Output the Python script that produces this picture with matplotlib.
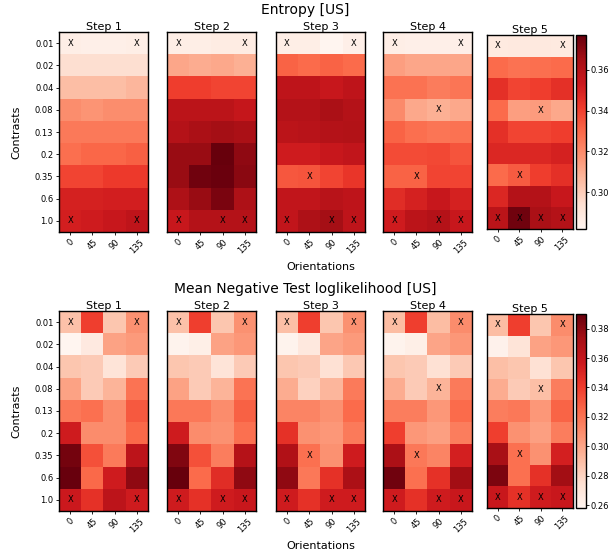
import numpy as np
import matplotlib
matplotlib.use('Agg')
import matplotlib.pyplot as plt
from matplotlib.colors import Normalize

contrasts = ["0.01", "0.02", "0.04", "0.08", "0.13", "0.2", "0.35", "0.6", "1.0"]
orientations = ["0", "45", "90", "135"]
steps = ["Step 1", "Step 2", "Step 3", "Step 4", "Step 5"]

# Entropy, rows = contrasts, cols = orientations
entropy_step1 = [
    [0.286, 0.285, 0.285, 0.286],
    [0.294, 0.294, 0.294, 0.294],
    [0.305, 0.305, 0.305, 0.307],
    [0.319, 0.317, 0.319, 0.319],
    [0.325, 0.325, 0.325, 0.325],
    [0.328, 0.330, 0.330, 0.332],
    [0.339, 0.339, 0.342, 0.342],
    [0.350, 0.350, 0.351, 0.351],
    [0.351, 0.352, 0.354, 0.357],
]
entropy_step2 = [
    [0.286, 0.286, 0.287, 0.287],
    [0.312, 0.310, 0.311, 0.309],
    [0.341, 0.341, 0.339, 0.339],
    [0.358, 0.358, 0.358, 0.355],
    [0.360, 0.363, 0.365, 0.363],
    [0.367, 0.367, 0.377, 0.369],
    [0.367, 0.375, 0.376, 0.370],
    [0.362, 0.367, 0.373, 0.362],
    [0.354, 0.360, 0.360, 0.360],
]
entropy_step3 = [
    [0.286, 0.286, 0.282, 0.285],
    [0.331, 0.329, 0.331, 0.329],
    [0.357, 0.357, 0.354, 0.357],
    [0.360, 0.360, 0.363, 0.360],
    [0.358, 0.359, 0.360, 0.361],
    [0.352, 0.352, 0.354, 0.356],
    [0.334, 0.335, 0.339, 0.343],
    [0.356, 0.356, 0.359, 0.357],
    [0.356, 0.362, 0.365, 0.357],
]
entropy_step4 = [
    [0.286, 0.285, 0.285, 0.285],
    [0.314, 0.312, 0.312, 0.312],
    [0.327, 0.327, 0.324, 0.326],
    [0.320, 0.311, 0.309, 0.311],
    [0.331, 0.328, 0.326, 0.327],
    [0.337, 0.337, 0.338, 0.335],
    [0.331, 0.331, 0.339, 0.339],
    [0.346, 0.350, 0.354, 0.350],
    [0.352, 0.358, 0.360, 0.354],
]
entropy_step5 = [
    [0.288, 0.289, 0.289, 0.288],
    [0.329, 0.327, 0.328, 0.329],
    [0.345, 0.339, 0.341, 0.345],
    [0.329, 0.314, 0.315, 0.311],
    [0.345, 0.339, 0.339, 0.341],
    [0.348, 0.348, 0.348, 0.350],
    [0.329, 0.333, 0.341, 0.345],
    [0.348, 0.360, 0.360, 0.354],
    [0.358, 0.375, 0.363, 0.360],
]

# Mean negative test log-likelihood
nll_step1 = [
    [0.288, 0.339, 0.286, 0.308],
    [0.258, 0.267, 0.301, 0.304],
    [0.286, 0.284, 0.271, 0.284],
    [0.301, 0.284, 0.294, 0.320],
    [0.318, 0.321, 0.310, 0.330],
    [0.355, 0.310, 0.310, 0.324],
    [0.386, 0.333, 0.317, 0.363],
    [0.389, 0.324, 0.355, 0.379],
    [0.357, 0.345, 0.363, 0.355],
]
nll_step2 = [
    [0.288, 0.339, 0.286, 0.308],
    [0.260, 0.263, 0.301, 0.305],
    [0.286, 0.284, 0.271, 0.284],
    [0.301, 0.284, 0.294, 0.320],
    [0.318, 0.318, 0.310, 0.327],
    [0.355, 0.310, 0.308, 0.321],
    [0.383, 0.333, 0.316, 0.366],
    [0.390, 0.323, 0.347, 0.379],
    [0.355, 0.345, 0.355, 0.358],
]
nll_step3 = [
    [0.289, 0.339, 0.286, 0.308],
    [0.260, 0.268, 0.300, 0.304],
    [0.286, 0.284, 0.273, 0.285],
    [0.297, 0.281, 0.293, 0.317],
    [0.313, 0.313, 0.308, 0.323],
    [0.345, 0.308, 0.305, 0.317],
    [0.368, 0.321, 0.308, 0.355],
    [0.379, 0.318, 0.345, 0.370],
    [0.355, 0.345, 0.355, 0.355],
]
nll_step4 = [
    [0.290, 0.339, 0.290, 0.310],
    [0.260, 0.263, 0.300, 0.305],
    [0.286, 0.284, 0.273, 0.284],
    [0.297, 0.284, 0.294, 0.317],
    [0.316, 0.316, 0.305, 0.323],
    [0.339, 0.305, 0.302, 0.316],
    [0.370, 0.318, 0.313, 0.353],
    [0.387, 0.321, 0.345, 0.374],
    [0.355, 0.345, 0.355, 0.358],
]
nll_step5 = [
    [0.290, 0.339, 0.286, 0.310],
    [0.261, 0.271, 0.301, 0.305],
    [0.289, 0.286, 0.273, 0.286],
    [0.297, 0.284, 0.289, 0.316],
    [0.316, 0.318, 0.305, 0.326],
    [0.339, 0.308, 0.302, 0.316],
    [0.371, 0.321, 0.308, 0.353],
    [0.384, 0.321, 0.345, 0.374],
    [0.358, 0.345, 0.355, 0.358],
]

# observed (contrast index, orientation index) per step
marks_step1 = [(0, 0), (0, 3), (8, 0), (8, 3)]
marks_step2 = marks_step1 + [(8, 2)]
marks_step3 = marks_step2 + [(6, 1)]
marks_step4 = marks_step3 + [(3, 2)]
marks_step5 = marks_step4 + [(8, 1)]

entropy = [entropy_step1, entropy_step2, entropy_step3, entropy_step4, entropy_step5]
nll = [nll_step1, nll_step2, nll_step3, nll_step4, nll_step5]
marks = [marks_step1, marks_step2, marks_step3, marks_step4, marks_step5]

W, H = 610, 556
TICK_FS = 6


def px_rect(x0, y0, x1, y1):
    # pixel box (top-left origin) -> figure fraction rect
    return [x0 / W, 1 - y1 / H, (x1 - x0) / W, (y1 - y0) / H]


def draw_row(fig, data, title, top, norm, cbar_ticks):
    xs = [59, 167, 276, 383]
    axes = []
    for i in range(5):
        if i < 4:
            rect = px_rect(xs[i], top, xs[i] + 89, top + 200)
        else:
            rect = px_rect(487, top + 3, 573, top + 197)
        ax = fig.add_axes(rect)
        im = ax.imshow(np.array(data[i]), cmap='Reds', norm=norm, aspect='auto')
        for r, c in marks[i]:
            ax.text(c, r, "X", ha='center', va='center', fontsize=TICK_FS, color='black')
        ax.set_title(steps[i], fontsize=8, pad=1.5)
        ax.set_xticks(range(len(orientations)))
        ax.set_xticklabels(orientations, rotation=45, fontsize=TICK_FS)
        if i == 0:
            ax.set_yticks(range(len(contrasts)))
            ax.set_yticklabels(contrasts, fontsize=TICK_FS)
            ax.set_ylabel("Contrasts", fontsize=8, labelpad=10)
        else:
            ax.set_yticks([])
        ax.tick_params(length=2.5, width=0.6, pad=1.5)
        for s in ax.spines.values():
            s.set_linewidth(1.0)
        axes.append(ax)

    cax = fig.add_axes(px_rect(576, top + 3, 586, top + 197))
    cb = fig.colorbar(im, cax=cax, ticks=cbar_ticks)
    cb.ax.tick_params(labelsize=TICK_FS, length=2.5, width=0.6, pad=1)
    cb.ax.set_yticklabels([f"{t:.2f}" for t in cbar_ticks])
    cb.outline.set_linewidth(1.0)

    axes[2].set_xlabel("Orientations", fontsize=8, labelpad=5)
    fig.text(0.5, 1 - (top - 22) / H, title, ha='center', va='center', fontsize=10)
    return axes


fig = plt.figure(figsize=(W / 100, H / 100), dpi=100)

ent_norm = Normalize(vmin=np.min(entropy), vmax=np.max(entropy))
draw_row(fig, entropy, "Entropy [US]", 32, ent_norm, [0.30, 0.32, 0.34, 0.36])

nll_norm = Normalize(vmin=np.min(nll), vmax=np.max(nll))
draw_row(fig, nll, "Mean Negative Test loglikelihood [US]", 311, nll_norm,
         [0.26, 0.28, 0.30, 0.32, 0.34, 0.36, 0.38])

fig.savefig("out.png", dpi=100)
